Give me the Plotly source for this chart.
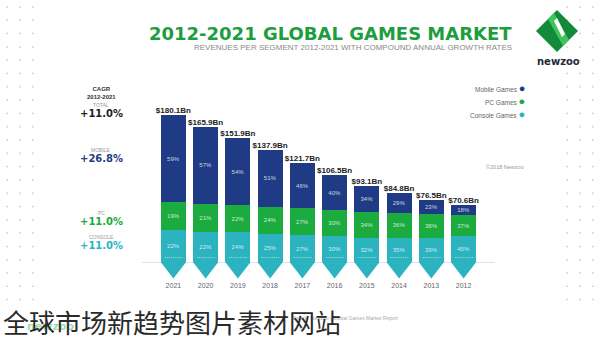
import plotly.graph_objects as go

# ---------------- data ----------------
years = ["2012", "2013", "2014", "2015", "2016", "2017", "2018", "2019", "2020", "2021"]
totals = [70.6, 76.5, 84.8, 93.1, 106.5, 121.7, 137.9, 151.9, 165.9, 180.1]
mobile_pct = [18, 23, 29, 34, 40, 46, 51, 54, 57, 59]
pc_pct = [37, 38, 36, 34, 30, 27, 24, 22, 21, 19]
console_pct = [45, 39, 35, 32, 30, 27, 25, 24, 22, 22]
cagr_labels = ["TOTAL", "MOBILE", "PC", "CONSOLE"]
cagr_values = ["+11.0%", "+26.8%", "+11.0%", "+11.0%"]
segments = ["Mobile Games", "PC Games", "Console Games"]

NAVY = "#1f3b86"
GREEN = "#1bab3e"
TEAL = "#2bb3bf"

W, H = 600, 337
ML, MR, MT, MB = 142, 105, 99, 57
PW, PH = W - ML - MR, H - MT - MB


def xp(px):
    return (px - ML) / PW


def yp(py):
    return (H - MB - py) / PH


console_v = [t * p / 100 for t, p in zip(totals, console_pct)]
pc_v = [t * p / 100 for t, p in zip(totals, pc_pct)]
mobile_v = [t * p / 100 for t, p in zip(totals, mobile_pct)]

fig = go.Figure()
seg_txt = dict(size=6, color="rgba(255,255,255,0.78)", family="Liberation Sans")
for vals, pcts, col, name in [
    (console_v, console_pct, TEAL, segments[2]),
    (pc_v, pc_pct, GREEN, segments[1]),
    (mobile_v, mobile_pct, NAVY, segments[0]),
]:
    fig.add_trace(go.Bar(
        x=years, y=vals, name=name, marker=dict(color=col, line=dict(width=0)),
        text=[f"{p}%" for p in pcts], textposition="inside",
        insidetextanchor="middle", textangle=0, textfont=seg_txt,
        constraintext="none", showlegend=False,
    ))

# chevron tips under each bar
fig.add_trace(go.Scatter(
    x=years, y=[-0.037 * max(totals)] * len(years), mode="markers",
    marker=dict(symbol="triangle-down", size=22, color=TEAL, line=dict(width=0)),
    showlegend=False, hoverinfo="skip",
))
# dotted white line near bar bottoms
fig.add_trace(go.Scatter(
    x=years, y=[0] * len(years), mode="text", text=["·········"] * len(years),
    textposition="top center", textfont=dict(size=8, color="rgba(255,255,255,0.9)"),
    showlegend=False, hoverinfo="skip",
))
# totals above bars
fig.add_trace(go.Scatter(
    x=years, y=totals, mode="text", text=[f"<b>${t:.1f}Bn</b>" for t in totals],
    textposition="top center",
    textfont=dict(size=8, color="#222", family="Liberation Sans"),
    showlegend=False, hoverinfo="skip",
))

ann = []
# title & subtitle
ann.append(dict(x=xp(514), y=yp(33), xref="paper", yref="paper", xanchor="right", yanchor="middle",
                text="<b>2012-2021 GLOBAL GAMES MARKET</b>", showarrow=False,
                font=dict(family="DejaVu Sans", size=18, color="#1c9e3e")))
ann.append(dict(x=xp(514), y=yp(47), xref="paper", yref="paper", xanchor="right", yanchor="middle",
                text="REVENUES PER SEGMENT 2012-2021 WITH COMPOUND ANNUAL GROWTH RATES", showarrow=False,
                font=dict(family="Liberation Sans", size=8, color="#8a8a8a")))
# logo text
ann.append(dict(x=xp(558), y=yp(62), xref="paper", yref="paper", xanchor="center", yanchor="middle",
                text="<b>newzoo</b>", showarrow=False,
                font=dict(family="DejaVu Sans", size=10, color="#1e2a3a")))
# CAGR panel
ann.append(dict(x=xp(101), y=yp(93), xref="paper", yref="paper", xanchor="center", yanchor="middle",
                text="<b>CAGR<br>2012-2021</b>", showarrow=False,
                font=dict(family="Liberation Sans", size=6, color="#333")))
cagr_rows = [(105, 113, "#222"), (150, 158, NAVY), (213, 221, GREEN), (237, 245, TEAL)]
for (ly, vy, col), lab, val in zip(cagr_rows, cagr_labels, cagr_values):
    ann.append(dict(x=xp(101), y=yp(ly), xref="paper", yref="paper", xanchor="center", yanchor="middle",
                    text=lab, showarrow=False,
                    font=dict(family="Liberation Sans", size=5, color="#999")))
    ann.append(dict(x=xp(101), y=yp(vy), xref="paper", yref="paper", xanchor="center", yanchor="middle",
                    text=f"<b>{val}</b>", showarrow=False,
                    font=dict(family="DejaVu Sans", size=10, color=col)))
# legend (dot on the right)
for name, col, py in zip(segments, [NAVY, GREEN, TEAL], [88, 101, 114]):
    ann.append(dict(x=xp(527), y=yp(py), xref="paper", yref="paper", xanchor="right", yanchor="middle",
                    text=f"{name} <span style='color:{col};font-size:11px'>●</span>", showarrow=False,
                    font=dict(family="Liberation Sans", size=6.5, color="#666")))
ann.append(dict(x=xp(505), y=yp(167), xref="paper", yref="paper", xanchor="center", yanchor="middle",
                text="©2018 Newzoo", showarrow=False,
                font=dict(family="Liberation Sans", size=5.5, color="#999")))
# footer
ann.append(dict(x=xp(400), y=yp(318), xref="paper", yref="paper", xanchor="right", yanchor="middle",
                text="Source: Newzoo | Global Games Market Report", showarrow=False,
                font=dict(family="Liberation Sans", size=5, color="#aaa")))
ann.append(dict(x=xp(50), y=yp(326), xref="paper", yref="paper", xanchor="center", yanchor="middle",
                text="<b>newzoo</b>", showarrow=False,
                font=dict(family="DejaVu Sans", size=11, color="rgba(40,170,70,0.45)")))
ann.append(dict(x=xp(1), y=yp(321), xref="paper", yref="paper", xanchor="left", yanchor="middle",
                text="全球市场新趋势图片素材网站", showarrow=False,
                font=dict(family="Noto Sans CJK SC", size=26, color="#2a2a2a")))

# logo diamond shapes
cx, cy, r = 557, 31, 21


def pth(pts):
    return "M " + " L ".join(f"{xp(a):.4f},{yp(b):.4f}" for a, b in pts) + " Z"


shapes = []
# faint decorative dot grid at both sides
for col_px in [7, 20, 33, 567, 580, 593]:
    for k in range(23):
        py = 7 + k * 13.3
        shapes.append(dict(type="circle", xref="paper", yref="paper", fillcolor="#d6d6d6",
                           line=dict(width=0), layer="below",
                           x0=xp(col_px - 1), x1=xp(col_px + 1), y0=yp(py - 1), y1=yp(py + 1)))
shapes += [
    dict(type="path", xref="paper", yref="paper", fillcolor="#128a3a", line=dict(width=0),
         path=pth([(cx, cy - r), (cx + r, cy), (cx, cy + r), (cx - r, cy)])),
    dict(type="path", xref="paper", yref="paper", fillcolor="#3fc35c", line=dict(width=0),
         path=pth([(cx - 9, cy - 12), (cx - 3, cy - 18), (cx + 12, cy + 9), (cx + 6, cy + 15)])),
    dict(type="path", xref="paper", yref="paper", fillcolor="#ffffff", line=dict(width=0),
         path=pth([(cx - 3, cy - 10), (cx, cy - 13), (cx + 8, cy + 3), (cx + 5, cy + 6)])),
]

fig.update_layout(
    width=W, height=H, margin=dict(l=ML, r=MR, t=MT, b=MB),
    barmode="stack", bargap=0.23,
    paper_bgcolor="white", plot_bgcolor="white",
    annotations=ann, shapes=shapes, showlegend=False,
    xaxis=dict(autorange="reversed", showgrid=False, showline=False, ticks="",
               tickfont=dict(family="Liberation Sans", size=7, color="#666")),
    yaxis=dict(range=[-22, 200], visible=True, showgrid=False, showticklabels=False,
               zeroline=True, zerolinecolor="#e2e2e2", zerolinewidth=1, ticks=""),
)

fig.write_html("out.html")
